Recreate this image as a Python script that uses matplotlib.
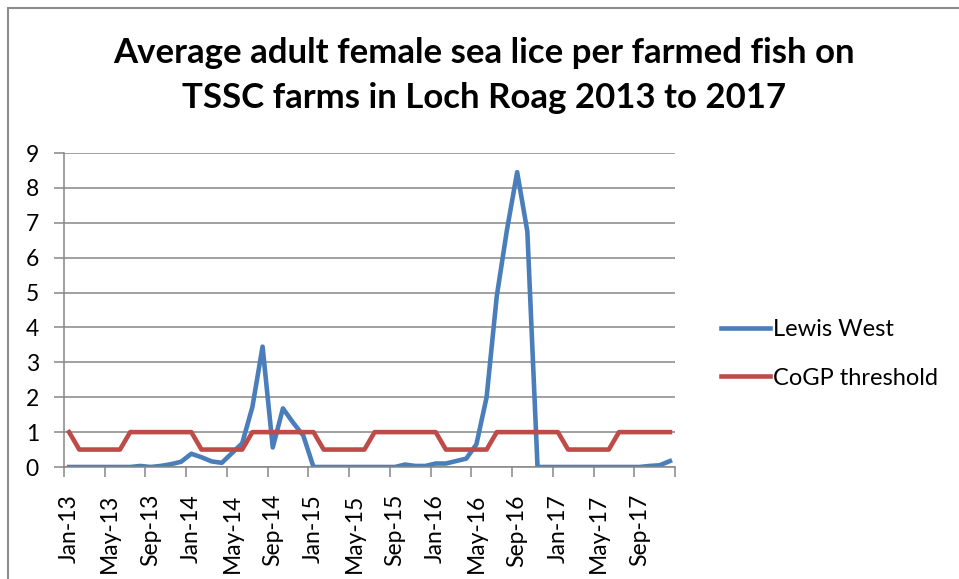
import pandas as pd
from matplotlib import pyplot as plt
from matplotlib.patches import Rectangle

# monthly categories Jan-13 .. Dec-17
months = pd.date_range("2013-01-01", periods=60, freq="MS").strftime("%b-%y").tolist()

lewis_west = [
    0, 0, 0, 0, 0, 0, 0, 0.03, 0, 0.03, 0.08, 0.15,
    0.38, 0.28, 0.16, 0.12, 0.40, 0.68, 1.72, 3.45, 0.56, 1.68, 1.27, 0.90,
    0, 0, 0, 0, 0, 0, 0, 0, 0, 0.07, 0.03, 0.03,
    0.10, 0.10, 0.17, 0.24, 0.65, 2.00, 4.90, 6.80, 8.45, 6.75, 0, 0,
    0, 0, 0, 0, 0, 0, 0, 0, 0, 0.03, 0.05, 0.17,
]

cogp_threshold = [
    1, 0.5, 0.5, 0.5, 0.5, 0.5, 1, 1, 1, 1, 1, 1,
    1, 0.5, 0.5, 0.5, 0.5, 0.5, 1, 1, 1, 1, 1, 1,
    1, 0.5, 0.5, 0.5, 0.5, 0.5, 1, 1, 1, 1, 1, 1,
    1, 0.5, 0.5, 0.5, 0.5, 0.5, 1, 1, 1, 1, 1, 1,
    1, 0.5, 0.5, 0.5, 0.5, 0.5, 1, 1, 1, 1, 1, 1,
]

title_lines = ["Average adult female sea lice per farmed fish on",
               "TSSC farms in Loch Roag 2013 to 2017"]

grey = "#868686"
plt.rcParams["font.family"] = ["Lato", "DejaVu Sans"]

fig = plt.figure(figsize=(9.59, 5.79), dpi=100)
fig.patches.append(Rectangle((8 / 959, -0.1), 1.2, 1.1 - 8 / 579, transform=fig.transFigure,
                             fill=False, edgecolor="#8c8c8c", lw=1.5))
ax = fig.add_axes([64 / 959, 112 / 579, 611 / 959, 314 / 579])

x = list(range(len(months)))
ax.plot(x, lewis_west, color="#4A7EBB", lw=3.3, label="Lewis West", solid_joinstyle="round")
ax.plot(x, cogp_threshold, color="#BE4B48", lw=3.3, label="CoGP threshold", solid_joinstyle="round")

ax.set_xlim(-0.5, len(months) - 0.5)
ax.set_ylim(0, 9)
ax.set_yticks(range(0, 10))
ax.yaxis.grid(True, color=grey, lw=1.1)
ax.set_axisbelow(True)

# ticks between categories, labels centred on every 4th month
ax.set_xticks([i - 0.5 for i in range(0, len(months) + 1, 4)])
ax.set_xticklabels([])
ax.set_xticks(x[::4], minor=True)
ax.set_xticklabels(months[::4], minor=True, rotation=90, fontsize=16.5)
ax.tick_params(axis="x", which="major", length=7, color=grey, width=1.1)
ax.tick_params(axis="x", which="minor", length=0, pad=19.5)
ax.tick_params(axis="y", length=7, color=grey, width=1.1, pad=11, labelsize=16.5)

for side in ["top", "right"]:
    ax.spines[side].set_visible(False)
for side in ["left", "bottom"]:
    ax.spines[side].set_color(grey)
    ax.spines[side].set_linewidth(1.1)

for line, y_px in zip(title_lines, [63, 108]):
    fig.text(0.505, 1 - y_px / 579, line, ha="center", va="baseline", fontsize=25,
             fontweight="bold")

fig.legend(loc="center left", bbox_to_anchor=(700 / 959, 1 - 354 / 579), frameon=False,
           fontsize=17, handlelength=2.05, handletextpad=0.15, labelspacing=1.15)

fig.savefig("out.png", dpi=100)
